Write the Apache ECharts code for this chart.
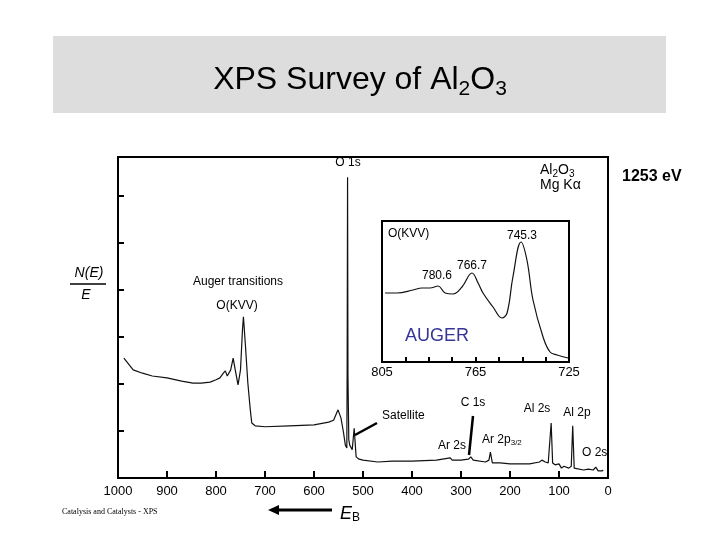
<!DOCTYPE html>
<html><head><meta charset="utf-8">
<script src="https://cdn.jsdelivr.net/npm/echarts@6/dist/echarts.min.js"></script>
<style>html,body{margin:0;padding:0;background:#fff}#c{width:720px;height:540px}</style>
</head><body><div id="c"></div>
<script>
// Survey spectrum: binding energy (eV) and intensity (arb. units, N(E)/E)
const surveyBE = [988,969,950,930,900,870,847,830,812,800,792,785,781,777,770,765,760,755,750,746,744,740,735,730,727,720,700,650,600,570,560,551,545,540,536,533,532.3,531.5,530.7,529,527,522,518,514,508,500,470,440,400,350,322,318,300,285,280,275,250,243,240,236,220,200,160,140,135,128,122,119,116,113,108,100,95,90,80,75,72,69,65,50,40,30,25,22,20,12,10];
const surveyI  = [2.55,2.30,2.23,2.17,2.13,2.06,2.02,2.02,2.04,2.09,2.13,2.23,2.28,2.17,2.30,2.55,2.26,1.98,2.30,3.15,3.43,2.83,2.02,1.45,1.17,1.11,1.09,1.11,1.13,1.19,1.23,1.45,1.28,0.98,0.70,0.64,2.5,6.40,2.2,0.81,0.70,0.60,1.06,0.45,0.40,0.38,0.34,0.36,0.36,0.38,0.43,0.38,0.38,0.40,0.45,0.38,0.34,0.38,0.55,0.32,0.32,0.30,0.30,0.34,0.38,0.34,0.32,0.34,1.17,0.32,0.28,0.30,0.21,0.25,0.21,0.25,1.11,0.21,0.17,0.17,0.19,0.17,0.23,0.21,0.15,0.15,0.17];
// Inset: O(KVV) Auger region
const augerBE = [803.7,798.6,791.7,787.9,784.5,781.0,778.0,774.6,770.8,766.5,763.9,761.8,757.5,753.7,751.5,749.0,745.5,743.0,740.4,736.1,733.1,730.1,725.4];
const augerI  = [69,69,72,74,74,76,69,68,75,89,79,69,55,44,49,85,120,102,62,25,10,7,4];
const insetTickLabels = [805,765,725];

const FONT = '"Liberation Sans", Arial, sans-serif';
const cv = document.createElement('canvas').getContext('2d');
function tw(t, size, style){ cv.font = (style||'') + ' ' + size + 'px ' + FONT; return cv.measureText(t).width; }
// parts: [text, size, dy, style]
function rich(x, y, parts, align, color){
  let total = 0; parts.forEach(p => total += tw(p[0], p[1], p[3]));
  let cx = align === 'center' ? x - total/2 : (align === 'right' ? x - total : x);
  const out = [];
  parts.forEach(p => {
    out.push({type:'text', x:cx, y:y + (p[2]||0), silent:true, z:100,
      style:{text:p[0], font:(p[3]||'') + ' ' + p[1] + 'px ' + FONT, fill:color||'#000',
        align:'left', textAlign:'left', verticalAlign:'middle', textVerticalAlign:'middle'}});
    cx += tw(p[0], p[1], p[3]);
  });
  return out;
}
function txt(x, y, t, size, align, extra){ return rich(x, y, [[t, size, 0, extra&&extra.style]], align||'center', extra&&extra.color); }
function line(x1,y1,x2,y2,w){ return {type:'line', silent:true, z:100, shape:{x1,y1,x2,y2}, style:{stroke:'#000', lineWidth:w||2}}; }

const graphics = [].concat(
  [{type:'rect', shape:{x:53,y:36,width:613,height:77}, style:{fill:'#dddddd'}, z:-1, silent:true}],
  rich(360, 80, [['XPS Survey of Al',32,0],['2',21,9],['O',32,0],['3',21,9]], 'center'),
  txt(348, 163, 'O 1s', 12),
  rich(540, 170, [['Al',14,0],['2',10,4],['O',14,0],['3',10,4]], 'left'),
  txt(540, 185, 'Mg K\u03b1', 14, 'left'),
  txt(622, 177, '1253 eV', 16, 'left', {style:'bold'}),
  txt(388, 234, 'O(KVV)', 12, 'left'),
  txt(522, 236, '745.3', 12),
  txt(472, 266, '766.7', 12),
  txt(437, 276, '780.6', 12),
  txt(437, 336, 'AUGER', 18, 'center', {color:'#363696'}),
  txt(89, 273, 'N(E)', 14, 'center', {style:'italic'}),
  [line(70, 284, 106, 284, 1.5)],
  txt(86, 295, 'E', 14, 'center', {style:'italic'}),
  txt(238, 282, 'Auger transitions', 12),
  txt(237, 306, 'O(KVV)', 12),
  txt(382, 416, 'Satellite', 12, 'left'),
  [line(377, 423, 355, 435, 2.5)],
  txt(473, 403, 'C 1s', 12),
  [line(473, 416, 469, 455, 2.5)],
  txt(452, 446, 'Ar 2s', 12),
  rich(482, 440, [['Ar 2p',12,0],['3/2',8,3]], 'left'),
  txt(537, 409, 'Al 2s', 12),
  txt(577, 413, 'Al 2p', 12),
  txt(582, 453, 'O 2s', 12, 'left'),
  [{type:'text', x:62, y:512, silent:true, style:{text:'Catalysis and Catalysts - XPS', font:'8px "Liberation Serif", serif', fill:'#000', verticalAlign:'middle', textVerticalAlign:'middle'}}],
  [line(332, 510, 276, 510, 3),
   {type:'polygon', silent:true, shape:{points:[[268,510],[279,505],[279,515]]}, style:{fill:'#000'}}],
  rich(340, 514, [['E',18,0,'italic'],['B',12,4]], 'left')
);

const chart = echarts.init(document.getElementById('c'));
chart.setOption({
  animation:false,
  backgroundColor:'#fff',
  grid:[
    {left:118, top:157, width:490, height:321, show:true, borderColor:'#000', borderWidth:2, backgroundColor:'transparent'},
    {left:382, top:221, width:187, height:141, show:true, borderColor:'#000', borderWidth:2, backgroundColor:'#fff', z:5}
  ],
  xAxis:[
    {gridIndex:0, type:'value', min:0, max:1000, interval:100, inverse:true,
     axisLine:{onZero:false, lineStyle:{color:'#000', width:2}}, axisTick:{inside:true, length:7, lineStyle:{color:'#000', width:2}},
     axisLabel:{color:'#000', fontSize:13, fontFamily:FONT, margin:7, formatter:v => String(v)}, splitLine:{show:false}},
    {gridIndex:1, type:'value', min:725, max:805, interval:10, inverse:true, z:6,
     axisLine:{onZero:false, lineStyle:{color:'#000', width:2}}, axisTick:{inside:true, length:5, lineStyle:{color:'#000', width:2}},
     axisLabel:{color:'#000', fontSize:13, fontFamily:FONT, margin:4,
       formatter:v => insetTickLabels.indexOf(v) >= 0 ? String(v) : ''}, splitLine:{show:false}}
  ],
  yAxis:[
    {gridIndex:0, type:'value', min:0, max:6.83, interval:1, position:'left',
     axisLine:{onZero:false, lineStyle:{color:'#000', width:2}}, axisTick:{inside:true, length:6, lineStyle:{color:'#000', width:2}},
     axisLabel:{show:false}, splitLine:{show:false}},
    {gridIndex:1, type:'value', min:0, max:141, show:false, splitLine:{show:false}}
  ],
  series:[
    {type:'line', xAxisIndex:0, yAxisIndex:0, showSymbol:false, silent:true,
     lineStyle:{color:'#111', width:1.2}, data:surveyBE.map((b,i)=>[b, surveyI[i]])},
    {type:'line', xAxisIndex:1, yAxisIndex:1, showSymbol:false, silent:true, smooth:0.4, z:6,
     lineStyle:{color:'#111', width:1.2}, data:augerBE.map((b,i)=>[b, augerI[i]])}
  ],
  graphic:graphics
});
</script></body></html>
